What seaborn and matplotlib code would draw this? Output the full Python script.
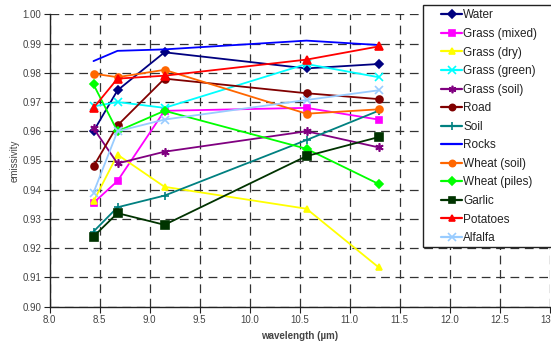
import matplotlib
matplotlib.use("Agg")
import matplotlib.pyplot as plt
from matplotlib.patches import Rectangle
from matplotlib.lines import Line2D
import numpy as np
import pandas as pd
import seaborn as sns

wavelength = [8.44, 8.68, 9.15, 10.57, 11.29]

water = [0.960, 0.974, 0.987, 0.9815, 0.983]
grass_mixed = [0.9355, 0.943, 0.967, 0.968, 0.964]
grass_dry = [0.936, 0.952, 0.941, 0.9335, 0.9135]
grass_green = [0.9685, 0.970, 0.968, 0.983, 0.9785]
grass_soil = [0.961, 0.949, 0.953, 0.960, 0.9545]
road = [0.948, 0.962, 0.978, 0.973, 0.971]
soil = [0.9257, 0.934, 0.938, 0.957, 0.967]
rocks = [0.984, 0.9875, 0.988, 0.991, 0.9895]
wheat_soil = [0.9797, 0.9785, 0.981, 0.966, 0.9675]
wheat_piles = [0.976, 0.960, 0.967, 0.954, 0.942]
garlic = [0.924, 0.932, 0.928, 0.9515, 0.958]
potatoes = [0.968, 0.978, 0.979, 0.9845, 0.989]
alfalfa = [0.939, 0.960, 0.964, 0.9707, 0.974]

names = ["Water", "Grass (mixed)", "Grass (dry)", "Grass (green)", "Grass (soil)",
         "Road", "Soil", "Rocks", "Wheat (soil)", "Wheat (piles)", "Garlic",
         "Potatoes", "Alfalfa"]
values = [water, grass_mixed, grass_dry, grass_green, grass_soil, road, soil,
          rocks, wheat_soil, wheat_piles, garlic, potatoes, alfalfa]
colors = ["#000080", "#FF00FF", "#FFFF00", "#00FFFF", "#800080", "#800000",
          "#008080", "#0000FF", "#FF6600", "#00FF00", "#003300", "#FF0000",
          "#99CCFF"]
markers = ["D", "s", "^", "x", (6, 2, 0), "o", "+", None, "o", "D", "s", "^", "x"]
msizes = [4.5, 5, 5, 6, 6, 5, 6, 0, 5, 4.5, 5.5, 5.5, 6]

x_ticks = [8.0, 8.5, 9.0, 9.5, 10.0, 10.5, 11.0, 11.5, 12.0, 12.5, 13.0]
y_ticks = [0.90, 0.91, 0.92, 0.93, 0.94, 0.95, 0.96, 0.97, 0.98, 0.99, 1.00]

rows = []
for n, v in zip(names, values):
    for w, e in zip(wavelength, v):
        rows.append({"series": n, "wavelength": w, "emissivity": e})
df = pd.DataFrame(rows)

sns.set_theme(style="white")
plt.rcParams["font.family"] = ["Liberation Sans", "DejaVu Sans"]

W, H = 551, 346
fig = plt.figure(figsize=(W / 100, H / 100), dpi=100)
ax = fig.add_axes([49.5 / W, 1 - 306.7 / H, 500 / W, 292.4 / H])

for n, c, m, ms in zip(names, colors, markers, msizes):
    sub = df[df["series"] == n]
    kw = dict(color=c, linewidth=1.3, zorder=3)
    if m is not None:
        kw.update(marker=m, markersize=ms, markeredgecolor=c, markerfacecolor=c,
                  markeredgewidth=1.2)
    sns.lineplot(data=sub, x="wavelength", y="emissivity", ax=ax, legend=False, **kw)

ax.set_xlim(8.0, 13.0)
ax.set_ylim(0.90, 1.00)
ax.set_xticks(x_ticks)
ax.set_xticklabels([f"{t:.1f}" for t in x_ticks])
ax.set_yticks(y_ticks)
ax.set_yticklabels([f"{t:.2f}" for t in y_ticks])
ax.tick_params(axis="both", labelsize=7, colors="#222222", length=4, width=0.8,
               direction="out", pad=2, labelcolor="#444444")
ax.tick_params(axis="both", which="both", bottom=True, left=True)

for s in ["top", "right"]:
    ax.spines[s].set_visible(False)
for s in ["left", "bottom"]:
    ax.spines[s].set_color("#222222")
    ax.spines[s].set_linewidth(1.0)

ax.grid(True, color="#333333", linestyle=(0, (7, 4.5)), linewidth=0.9, zorder=0)
ax.set_axisbelow(True)

ax.set_xlabel("wavelength (µm)", fontsize=7, color="#444444", fontweight="bold", labelpad=4)
ax.set_ylabel("emissivity", fontsize=7, color="#444444", labelpad=2)

# legend box
rect = Rectangle((423 / W, 1 - 247 / H), 0.3, (247 - 5) / H, transform=fig.transFigure,
                 facecolor="white", edgecolor="#222222", linewidth=1.0, zorder=10)
fig.patches.append(rect)

handles = []
for n, c, m, ms in zip(names, colors, markers, msizes):
    if m is None:
        h = Line2D([], [], color=c, linewidth=1.6)
    else:
        h = Line2D([], [], color=c, linewidth=1.6, marker=m, markersize=ms * 0.9,
                   markeredgecolor=c, markerfacecolor=c, markeredgewidth=1.2)
    handles.append(h)
leg = fig.legend(handles, names, loc="upper left", bbox_to_anchor=(441 / W, 1 - 9.5 / H),
                 frameon=False, fontsize=8.5, handlelength=1.8, handletextpad=0.1,
                 labelspacing=0.555, borderpad=0, borderaxespad=0)
leg.set_zorder(11)
for t in leg.get_texts():
    t.set_color("#222222")

fig.savefig("out.png", dpi=100)
